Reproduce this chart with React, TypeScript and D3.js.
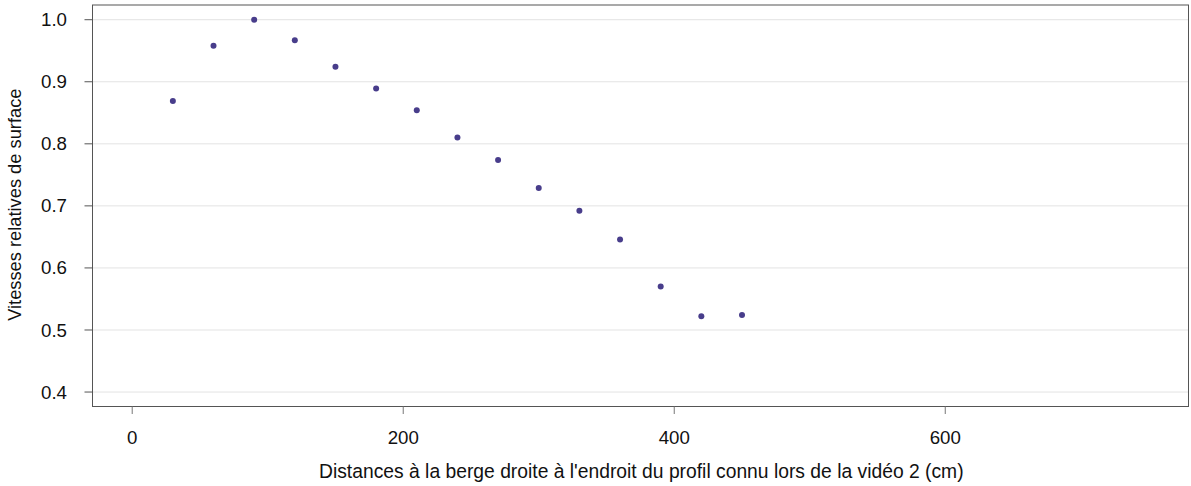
import React from "react";
import * as d3 from "d3";

const distances = [30, 60, 90, 120, 150, 180, 210, 240, 270, 300, 330, 360, 390, 420, 450];
const vitesses = [0.869, 0.958, 1.0, 0.967, 0.924, 0.889, 0.854, 0.81, 0.774, 0.729, 0.692, 0.646, 0.57, 0.522, 0.524];
const xTicks = [0, 200, 400, 600];
const yTicks = [0.4, 0.5, 0.6, 0.7, 0.8, 0.9, 1.0];
const xTitle = "Distances à la berge droite à l'endroit du profil connu lors de la vidéo 2 (cm)";
const yTitle = "Vitesses relatives de surface";

const W = 1191, H = 486;
const left = 92.5, right = 1188.5, top = 5, bottom = 406.5;
const font = "'Liberation Sans', Arial, sans-serif";

export default function App() {
  const x = d3.scaleLinear().domain([-29.3, 779.5]).range([left, right]);
  const y = d3.scaleLinear().domain([0.3767, 1.0237]).range([bottom, top]);
  return (
    <svg width={W} height={H} style={{ position: "absolute", left: 0, top: 0 }} fontFamily={font}>
      <rect width={W} height={H} fill="white" />
      {yTicks.map((t) => (
        <line key={"g" + t} x1={left} x2={right} y1={y(t)} y2={y(t)} stroke="#e3e3e3" strokeWidth={1} />
      ))}
      {distances.map((d, i) => (
        <circle key={i} cx={x(d)} cy={y(vitesses[i])} r={3} fill="#483D8B" />
      ))}
      <rect x={left} y={top} width={right - left} height={bottom - top} fill="none" stroke="#555" strokeWidth={1} />
      {yTicks.map((t) => (
        <g key={"y" + t}>
          <line x1={left - 8} x2={left} y1={y(t)} y2={y(t)} stroke="#555" />
          <text x={67} y={y(t)} dy="0.35em" textAnchor="end" fontSize={18.7} fill="#111">
            {t.toFixed(1)}
          </text>
        </g>
      ))}
      {xTicks.map((t) => (
        <g key={"x" + t}>
          <line x1={x(t)} x2={x(t)} y1={bottom} y2={bottom + 7.5} stroke="#777" />
          <text x={x(t)} y={444} textAnchor="middle" fontSize={18.7} fill="#111">
            {t}
          </text>
        </g>
      ))}
      <text x={641.3} y={478} textAnchor="middle" fontSize={19.3} fill="#111">
        {xTitle}
      </text>
      <text transform={`translate(20.5, 204.7) rotate(-90)`} textAnchor="middle" fontSize={18.3} fill="#111">
        {yTitle}
      </text>
    </svg>
  );
}
